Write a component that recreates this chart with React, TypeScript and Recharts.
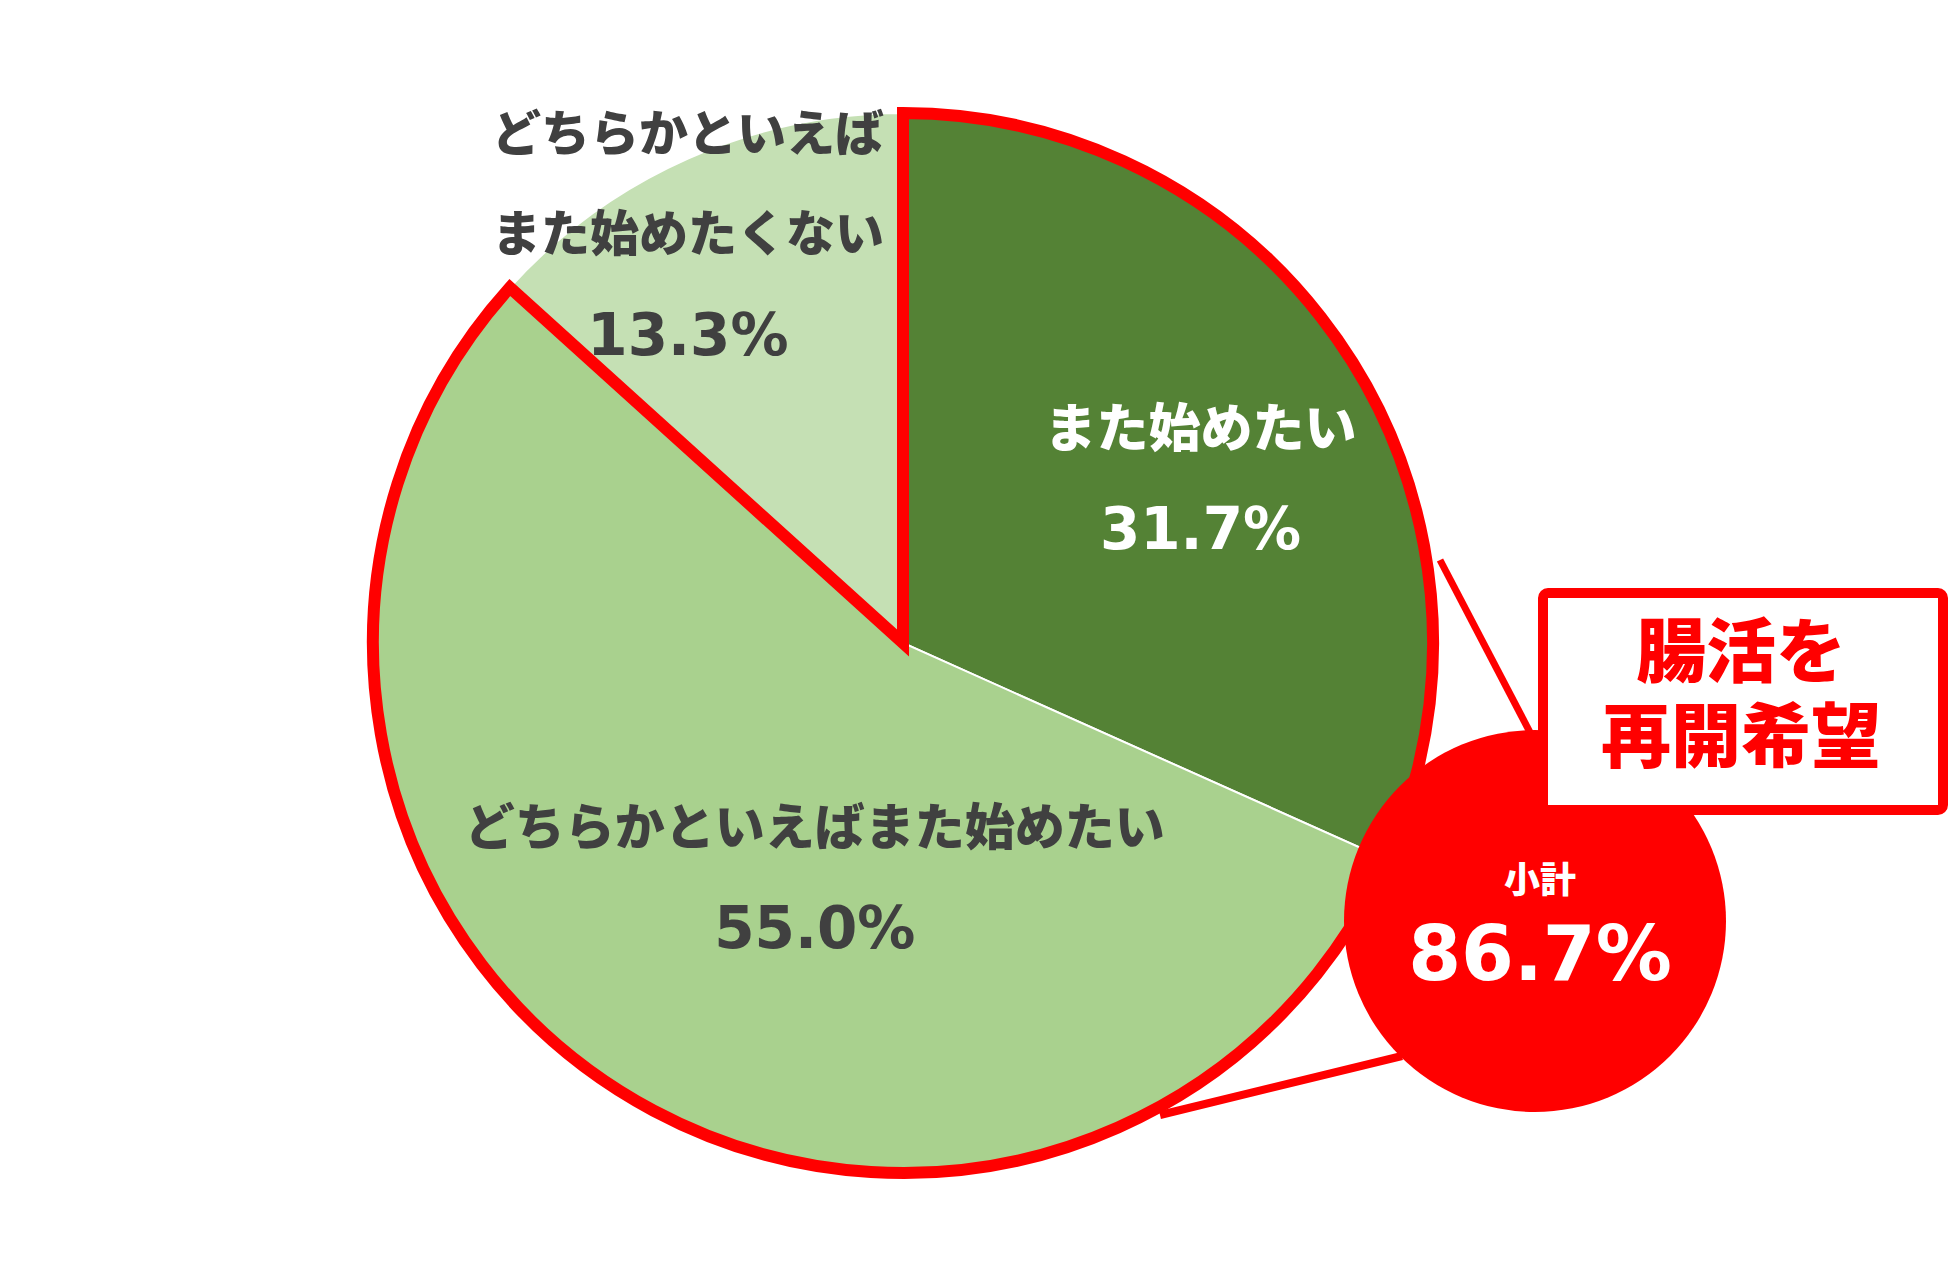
import { Cell, Pie, PieChart } from "recharts"

const categories = ["また始めたい", "どちらかといえばまた始めたい", "どちらかといえばまた始めたくない"]
const shares = [31.7, 55.0, 13.3]
const labelLines = [["また始めたい"], ["どちらかといえばまた始めたい"], ["どちらかといえば", "また始めたくない"]]
const sliceColors = ["#548235", "#A9D18E", "#C5E0B4"]
const labelColors = ["#FFFFFF", "#404040", "#404040"]

const subtotalTitle = "小計"
const boxLines = ["腸活を", "再開希望"]

const W = 1950
const H = 1284
const CX = 903
const CY = 643
const R = 530
const FONT = "'DejaVu Sans', 'Noto Sans CJK JP', sans-serif"
const RADIAN = Math.PI / 180

// label placement: distance along the slice bisector, then a small nudge
const labelRadius = [339, 251, 461]
const labelNudge = [
  [13, 20],
  [49, 25],
  [-28, 13],
]
const textSize = [52, 50, 49]

const data = categories.map((name, i) => ({ name, value: shares[i] }))
const subtotal = shares[0] + shares[1]
const outline = [
  { name: "再開希望", value: subtotal },
  { name: categories[2], value: shares[2] },
]

const renderLabel = (props: any) => {
  const { cx, cy, midAngle, index } = props
  const r = labelRadius[index]
  const x = cx + r * Math.cos(-midAngle * RADIAN) + labelNudge[index][0]
  const y = cy + r * Math.sin(-midAngle * RADIAN) + labelNudge[index][1]
  const lines = [...labelLines[index], `${shares[index].toFixed(1)}%`]
  const step = 100
  const top = y - ((lines.length - 1) * step) / 2
  return (
    <g key={`lbl-${index}`}>
      {lines.map((t, k) => {
        const isPct = k === lines.length - 1
        return (
          <text
            key={k}
            x={x}
            y={top + k * step}
            textAnchor="middle"
            dominantBaseline="central"
            fill={labelColors[index]}
            fontFamily={FONT}
            fontWeight={isPct ? 700 : 900}
            fontSize={isPct ? 58 : textSize[index]}
          >
            {t}
          </text>
        )
      })}
    </g>
  )
}

export default function App() {
  return (
    <div style={{ position: "absolute", left: 0, top: 0, width: W, height: H, background: "#fff" }}>
      <PieChart width={W} height={H} margin={{ top: 0, right: 0, bottom: 0, left: 0 }}>
        <Pie
          data={data}
          dataKey="value"
          cx={CX}
          cy={CY}
          outerRadius={R}
          startAngle={90}
          endAngle={-270}
          stroke="#fff"
          strokeWidth={2}
          label={renderLabel}
          labelLine={false}
          isAnimationActive={false}
        >
          {data.map((d, i) => (
            <Cell key={`cell-${i}`} fill={sliceColors[i]} />
          ))}
        </Pie>
        <Pie
          data={outline}
          dataKey="value"
          cx={CX}
          cy={CY}
          outerRadius={R}
          startAngle={90}
          endAngle={-270}
          label={false}
          labelLine={false}
          isAnimationActive={false}
        >
          <Cell fill="none" stroke="#FF0000" strokeWidth={12} strokeLinejoin="miter" />
          <Cell fill="none" stroke="none" />
        </Pie>
      </PieChart>
      <svg width={W} height={H} style={{ position: "absolute", left: 0, top: 0, pointerEvents: "none" }}>
        <line x1={1440} y1={560} x2={1533} y2={738} stroke="#FF0000" strokeWidth={7} />
        <line x1={1160} y1={1115} x2={1402} y2={1056} stroke="#FF0000" strokeWidth={8} />
        <circle cx={1535} cy={921} r={191} fill="#FF0000" />
        <text x={1540} y={880} textAnchor="middle" dominantBaseline="central" fill="#fff" fontFamily={FONT} fontWeight={900} fontSize={36}>
          {subtotalTitle}
        </text>
        <text x={1540} y={953} textAnchor="middle" dominantBaseline="central" fill="#fff" fontFamily={FONT} fontWeight={700} fontSize={76}>
          {`${subtotal.toFixed(1)}%`}
        </text>
        <rect x={1543} y={593} width={400} height={217} rx={5} fill="#fff" stroke="#FF0000" strokeWidth={10} />
        {boxLines.map((t, k) => (
          <text
            key={k}
            x={1741}
            y={653 + k * 85}
            textAnchor="middle"
            dominantBaseline="central"
            fill="#FF0000"
            fontFamily={FONT}
            fontWeight={900}
            fontSize={70}
          >
            {t}
          </text>
        ))}
      </svg>
    </div>
  )
}
